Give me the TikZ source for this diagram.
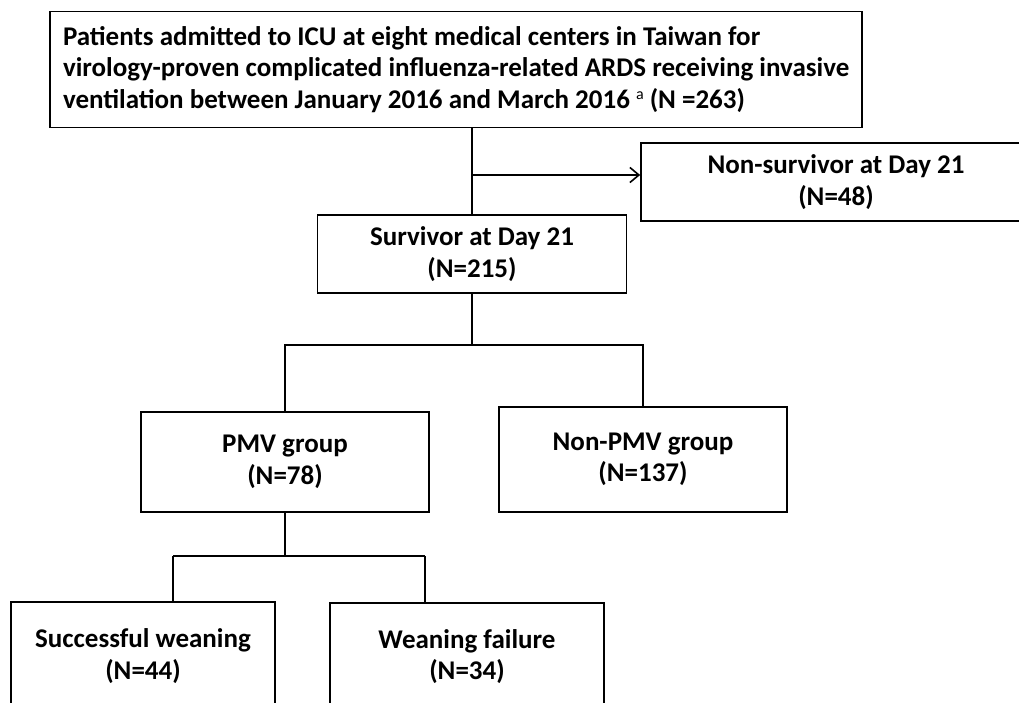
\documentclass[tikz,border=0pt]{standalone}
\usepackage{fontspec}
\setmainfont{Carlito}
\usetikzlibrary{arrows.meta}
\begin{document}
\begin{tikzpicture}[x=1pt,y=-1pt,
  box/.style={draw=black, line width=1.7pt, font=\bfseries\fontsize{27}{31.5}\selectfont, align=center, inner sep=0pt},
  conn/.style={draw=black, line width=1.6pt},
  arr/.style={conn, -{Straight Barb[length=9pt,width=15pt,line width=1.6pt]}}
]
\useasboundingbox (0,0) rectangle (1019,703);
\node[box, minimum width=812pt, minimum height=116pt, text width=786pt, align=left] (top) at (456,69.5)
  {\spaceskip=0.226em\relax
   \mbox{Patients admitted to ICU at eight medical centers in Taiwan for}\\
   \mbox{virology-proven complicated influenza-related ARDS receiving invasive}\\
   \mbox{ventilation between January 2016 and March 2016 \raisebox{0.32em}{\mdseries\fontsize{16}{16}\selectfont a} (N =263)}};
\node[box, minimum width=390pt, minimum height=78pt] (nonsurv) at (836,182) {Non-survivor at Day 21\\(N=48)};
\node[box, minimum width=309pt, minimum height=78pt] (surv) at (472,254) {Survivor at Day 21\\(N=215)};
\node[box, minimum width=288pt, minimum height=100pt] (pmv) at (285,462) {PMV group\\(N=78)};
\node[box, minimum width=288pt, minimum height=105pt] (nonpmv) at (643,459.5) {Non-PMV group\\(N=137)};
\node[box, minimum width=264pt, minimum height=108pt] (succ) at (143,656) {Successful weaning\\(N=44)};
\node[box, minimum width=274pt, minimum height=107pt] (fail) at (467,656.5) {Weaning failure\\(N=34)};
\coordinate (j1) at (472,175);
\coordinate (b1) at (472,345);
\coordinate (b2) at (285,556);
\coordinate (b2l) at (173,556);
\coordinate (b2r) at (425,556);
\draw[conn] (surv.north |- top.south) -- (surv.north);
\draw[arr] (j1) -- (j1 -| nonsurv.west);
\draw[conn] (surv.south) -- (b1);
\draw[conn] (pmv.north) |- (b1) -| (nonpmv.north);
\draw[conn] (pmv.south) -- (b2);
\draw[conn] (b2l) -- (b2r);
\draw[conn] (b2l) -- (b2l |- succ.north);
\draw[conn] (b2r) -- (b2r |- fail.north);
\end{tikzpicture}
\end{document}
